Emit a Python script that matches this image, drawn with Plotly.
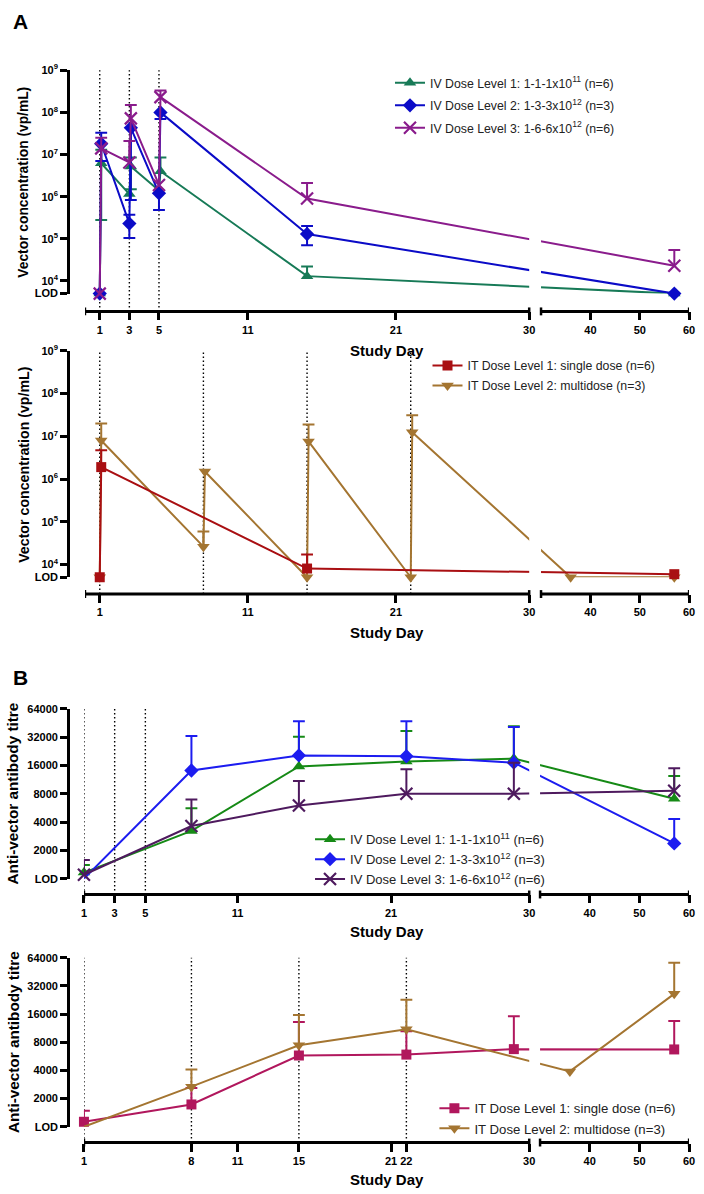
import math
import plotly.graph_objects as go

W, H = 704, 1194
FONT = "Arial, Liberation Sans, Helvetica, sans-serif"

# ---------------- data ----------------
LOD_VEC = 5000      # plotting position of "LOD" on vector axis
LOD_AB = 1000       # plotting position of "LOD" on antibody axis

# Panel A (top) - IV vector concentration (vp/mL)
iv_vec_days = [1, 1.1, 3, 3.1, 5, 5.1, 15, 57]
iv1_vec = [LOD_VEC, 6.2e6, 1.15e6, 5.2e6, 1.4e6, 4.0e6, 1.3e4, LOD_VEC]
iv1_vec_up = [None, 1.3e7, None, 8.5e6, None, 8.5e6, 2.2e4, None]
iv1_vec_lo = [None, 2.8e5, None, 1.5e6, None, None, None, None]
iv2_vec = [LOD_VEC, 1.8e7, 2.3e5, 4.3e7, 1.2e6, 1.0e8, 1.3e5, LOD_VEC]
iv2_vec_up = [None, 3.3e7, 3.7e5, None, None, None, 2.0e5, None]
iv2_vec_lo = [None, 7.0e6, 1.05e5, 8.3e5, 4.8e5, 7.0e7, 7.0e4, None]
iv3_vec = [LOD_VEC, 1.4e7, 6.5e6, 7.2e7, 1.9e6, 2.3e8, 9.0e5, 2.3e4]
iv3_vec_up = [None, 2.5e7, 2.1e7, 1.5e8, None, 3.3e8, 2.1e6, 5.4e4]

# Panel A (bottom) - IT vector concentration
it1_vec_days = [1, 1.1, 15, 57]
it1_vec = [LOD_VEC, 1.9e6, 8.0e3, 5.9e3]
it1_vec_up = [None, 4.7e6, 1.7e4, None]
it2_vec_days = [1, 1.1, 8, 8.1, 15, 15.1, 22, 22.1, 36, 57]
it2_vec = [LOD_VEC, 8.0e6, 2.6e4, 1.5e6, LOD_VEC, 7.6e6, LOD_VEC, 1.25e7, LOD_VEC, LOD_VEC]
it2_vec_up = [None, 2.0e7, 5.9e4, None, None, 1.9e7, None, 3.1e7, None, None]

# Panel B (top) - IV anti-vector antibody titre
iv_ab_days = [1, 8, 15, 22, 29, 57]
iv1_ab = [1160, 3220, 15600, 17600, 18900, 7080]
iv1_ab_up = [1400, 5600, 32200, 37000, 41700, 12300]
iv2_ab = [1000, 14100, 20400, 20000, 17100, 2370]
iv2_ab_up = [None, 32800, 47100, 47000, 41000, 4300]
iv3_ab = [1100, 3630, 5990, 8000, 8000, 8600]
iv3_ab_up = [1580, 6920, 10900, 14500, 17000, 14900]

# Panel B (bottom) - IT anti-vector antibody titre
it1_ab_days = [1, 8, 15, 22, 29, 57]
it1_ab = [1130, 1730, 5770, 5900, 6750, 6700]
it1_ab_up = [1480, 2600, 13200, 10500, 15200, 13500]
it2_ab_days = [1, 8, 15, 22, 36, 57]
it2_ab = [1000, 2680, 7430, 11000, 3900, 26300]
it2_ab_up = [None, 4100, 15600, 22800, None, 56500]

# tick labels
vec_tickvals = [LOD_VEC, 1e4, 1e5, 1e6, 1e7, 1e8, 1e9]
vec_ticktext = ["LOD", "10<sup>4</sup>", "10<sup>5</sup>", "10<sup>6</sup>",
                "10<sup>7</sup>", "10<sup>8</sup>", "10<sup>9</sup>"]
ab_tickvals = [LOD_AB, 2000, 4000, 8000, 16000, 32000, 64000]
ab_ticktext = ["LOD", "2000", "4000", "8000", "16000", "32000", "64000"]
day_ticks_iv = [1, 3, 5, 11, 21, 30, 40, 50, 60]
day_ticks_it_vec = [1, 11, 21, 30, 40, 50, 60]
day_ticks_it_ab = [1, 8, 11, 15, 21, 22, 30, 40, 50, 60]
dose_days_iv = [1, 3, 5]
dose_days_it = [1, 8, 15, 22]

iv_names = ["IV Dose Level 1: 1-1-1x10<sup>11</sup> (n=6)",
            "IV Dose Level 2: 1-3-3x10<sup>12</sup> (n=3)",
            "IV Dose Level 3: 1-6-6x10<sup>12</sup> (n=6)"]
it_names = ["IT Dose Level 1: single dose (n=6)",
            "IT Dose Level 2: multidose (n=3)"]

# ---------------- styling ----------------
A_GREEN, A_BLUE, A_PURPLE = "#177A57", "#0B0BC7", "#8A1C8C"
IT_RED, IT_BROWN = "#A90F12", "#A47531"
B_GREEN, B_BLUE, B_PURPLE = "#168A16", "#1C1CF0", "#4E1A5E"
B_PINK = "#B1175D"


def px(x):
    return x / W


def py(y):
    return 1 - y / H


# panel geometry (pixels) and broken-axis parameters
PANELS = [
    dict(n=1, xdom=(83, 695), ydom=(63, 289), xpos=307, ypos=66, x0=0, gap=0.8, ratio=1 / 3,
         log=True, ticks=day_ticks_iv, dots=dose_days_iv, title="Vector concentration (vp/mL)",
         tfs=13.8, title_x=21, sd_y=347),
    dict(n=2, xdom=(83, 695), ydom=(347, 576), xpos=593, ypos=66, x0=0, gap=0.8, ratio=1 / 3,
         log=True, ticks=day_ticks_it_vec, dots=dose_days_it, title="Vector concentration (vp/mL)",
         tfs=14.2, title_x=21, sd_y=632),
    dict(n=3, xdom=(82, 695), ydom=(709, 881), xpos=897, ypos=66, x0=1, gap=0.707, ratio=0.3236,
         log=False, ticks=day_ticks_iv, dots=dose_days_iv, title="Anti-vector antibody titre",
         tfs=15.3, title_x=10, sd_y=934),
    dict(n=4, xdom=(82, 695), ydom=(961, 1132), xpos=1148, ypos=66, x0=1, gap=0.707, ratio=0.3236,
         log=False, ticks=day_ticks_it_ab, dots=dose_days_it, title="Anti-vector antibody titre",
         tfs=15.3, title_x=10, sd_y=1185),
]


def brk(days, p):
    return [d if d <= 30 else 30 + p["gap"] + (d - 30) * p["ratio"] for d in days]


def x_end(p):
    return 30 + p["gap"] + 30 * p["ratio"]


fig = go.Figure()


def suffix(n):
    return "" if n == 1 else str(n)


def add_series(p, days, vals, ups, los, color, symbol, size, name, legend, rank):
    xs = brk(days, p)
    xr, yr = "x" + suffix(p["n"]), "y" + suffix(p["n"])
    pxu = (p["xdom"][1] - p["xdom"][0]) / (x_end(p) - p["x0"])
    cap = 6.0 / pxu
    ex, ey = [], []
    for i, (x, y) in enumerate(zip(xs, vals)):
        for arr in (ups, los):
            if arr is None or arr[i] is None:
                continue
            e = arr[i]
            ex += [x, x, None, x - cap, x + cap, None]
            ey += [y, e, None, e, e, None]
    if ex:
        fig.add_trace(go.Scatter(x=ex, y=ey, xaxis=xr, yaxis=yr, mode="lines",
                                 line=dict(color=color, width=2), showlegend=False,
                                 hoverinfo="skip", cliponaxis=False))
    if symbol == "x-thin":
        marker = dict(symbol=symbol, size=size, color=color, line=dict(width=2.2, color=color))
    else:
        marker = dict(symbol=symbol, size=size, color=color, line=dict(width=0))
    fig.add_trace(go.Scatter(x=xs, y=vals, xaxis=xr, yaxis=yr, mode="lines+markers",
                             line=dict(color=color, width=2), marker=marker, name=name,
                             legend=legend, legendgroup=legend + str(rank), legendrank=rank,
                             cliponaxis=False))


P1, P2, P3, P4 = PANELS
add_series(P1, iv_vec_days, iv1_vec, iv1_vec_up, iv1_vec_lo, A_GREEN, "triangle-up", 11, iv_names[0], "legend", 1)
add_series(P1, iv_vec_days, iv2_vec, iv2_vec_up, iv2_vec_lo, A_BLUE, "diamond", 11, iv_names[1], "legend", 2)
add_series(P1, iv_vec_days, iv3_vec, iv3_vec_up, None, A_PURPLE, "x-thin", 12, iv_names[2], "legend", 3)

add_series(P2, it2_vec_days, it2_vec, it2_vec_up, None, IT_BROWN, "triangle-down", 11, it_names[1], "legend2", 2)
add_series(P2, it1_vec_days, it1_vec, it1_vec_up, None, IT_RED, "square", 10, it_names[0], "legend2", 1)

add_series(P3, iv_ab_days, iv1_ab, iv1_ab_up, None, B_GREEN, "triangle-up", 11, iv_names[0], "legend3", 1)
add_series(P3, iv_ab_days, iv2_ab, iv2_ab_up, None, B_BLUE, "diamond", 11, iv_names[1], "legend3", 2)
add_series(P3, iv_ab_days, iv3_ab, iv3_ab_up, None, B_PURPLE, "x-thin", 12, iv_names[2], "legend3", 3)

add_series(P4, it1_ab_days, it1_ab, it1_ab_up, None, B_PINK, "square", 10, it_names[0], "legend4", 1)
add_series(P4, it2_ab_days, it2_ab, it2_ab_up, None, IT_BROWN, "triangle-down", 11, it_names[1], "legend4", 2)

TICKFONT = dict(family=FONT, size=11, color="black", weight="bold")
shapes, annotations = [], []
layout_axes = {}
for p in PANELS:
    s = suffix(p["n"])
    xr = "x" + s
    tv = brk(p["ticks"], p)
    layout_axes["xaxis" + s] = dict(
        domain=[px(p["xdom"][0]), px(p["xdom"][1])], anchor="free", position=py(p["xpos"]),
        range=[p["x0"], x_end(p)], tickmode="array", tickvals=tv,
        ticktext=[str(t) for t in p["ticks"]], ticks="outside", ticklen=8, tickwidth=2.5,
        tickcolor="black", showline=False, showgrid=False, zeroline=False,
        tickfont=TICKFONT, fixedrange=True, ticklabeloverflow="allow")
    if p["log"]:
        yrange = [math.log10(LOD_VEC), 9]
        tvals, ttext = vec_tickvals, vec_ticktext
    else:
        yrange = [math.log10(LOD_AB), math.log10(64000)]
        tvals, ttext = ab_tickvals, ab_ticktext
    layout_axes["yaxis" + s] = dict(
        domain=[py(p["ydom"][1]), py(p["ydom"][0])], anchor="free", position=px(p["ypos"]),
        type="log", range=yrange, tickmode="array", tickvals=tvals, ticktext=ttext,
        ticks="outside", ticklen=7, tickwidth=2.5, tickcolor="black", showline=True,
        linewidth=3, linecolor="black", showgrid=False, zeroline=False, tickfont=TICKFONT,
        fixedrange=True)
    # dotted dosing lines
    for d in brk(p["dots"], p):
        shapes.append(dict(type="line", xref=xr, yref="paper", x0=d, x1=d,
                           y0=py(p["xpos"]), y1=py(p["ydom"][0]),
                           line=dict(color="black", width=1.4, dash="1.5px,2.5px"), layer="below"))
    # mask the break in the data lines
    shapes.append(dict(type="rect", xref=xr, yref="paper", x0=30, x1=30 + p["gap"],
                       y0=py(p["xpos"] - 6), y1=py(p["ydom"][0]),
                       fillcolor="white", line=dict(width=0), layer="above"))
    # broken x axis line
    for a, b in [(p["x0"], 30), (30 + p["gap"], x_end(p))]:
        shapes.append(dict(type="line", xref=xr, yref="paper", x0=a, x1=b,
                           y0=py(p["xpos"]), y1=py(p["xpos"]),
                           line=dict(color="black", width=3), layer="above"))
    for c in [p["x0"], 30, 30 + p["gap"], x_end(p)]:
        shapes.append(dict(type="line", xref=xr, yref="paper", x0=c, x1=c,
                           y0=py(p["xpos"] - 4), y1=py(p["xpos"] + 4),
                           line=dict(color="black", width=2.5), layer="above"))
    # titles
    annotations.append(dict(text=p["title"], x=px(p["title_x"]), y=py((p["ydom"][0] + p["ydom"][1]) / 2),
                            xref="paper", yref="paper", showarrow=False, textangle=-90,
                            xanchor="center", yanchor="middle",
                            font=dict(family=FONT, size=p["tfs"], color="black", weight="bold")))
    annotations.append(dict(text="Study Day", x=px((p["xdom"][0] + p["xdom"][1]) / 2), y=py(p["sd_y"]),
                            xref="paper", yref="paper", showarrow=False,
                            xanchor="center", yanchor="middle",
                            font=dict(family=FONT, size=15, color="black", weight="bold")))

for letter, yy in [("A", 14), ("B", 677)]:
    annotations.append(dict(text=letter, x=px(18), y=py(yy), xref="paper", yref="paper",
                            showarrow=False, xanchor="center", yanchor="middle",
                            font=dict(family=FONT, size=21, color="black", weight="bold")))


def legend_cfg(left, top, size, gap):
    return dict(x=px(left), y=py(top), xanchor="left", yanchor="top",
                font=dict(family=FONT, size=size, color="#222222"),
                bgcolor="rgba(0,0,0,0)", borderwidth=0, tracegroupgap=gap,
                itemwidth=30, traceorder="grouped")


fig.update_layout(
    width=W, height=H, autosize=False,
    margin=dict(l=0, r=0, t=0, b=0),
    paper_bgcolor="white", plot_bgcolor="white",
    showlegend=True,
    legend=legend_cfg(392, 61, 12.3, 3.5),
    legend2=legend_cfg(430, 347, 12.3, 1),
    legend3=legend_cfg(311, 826, 13, 0),
    legend4=legend_cfg(437, 1098, 13.2, 0),
    shapes=shapes, annotations=annotations,
    **layout_axes,
)

fig.write_html("out.html", config={"displayModeBar": False},
               post_script="document.body.style.margin='0px';")
